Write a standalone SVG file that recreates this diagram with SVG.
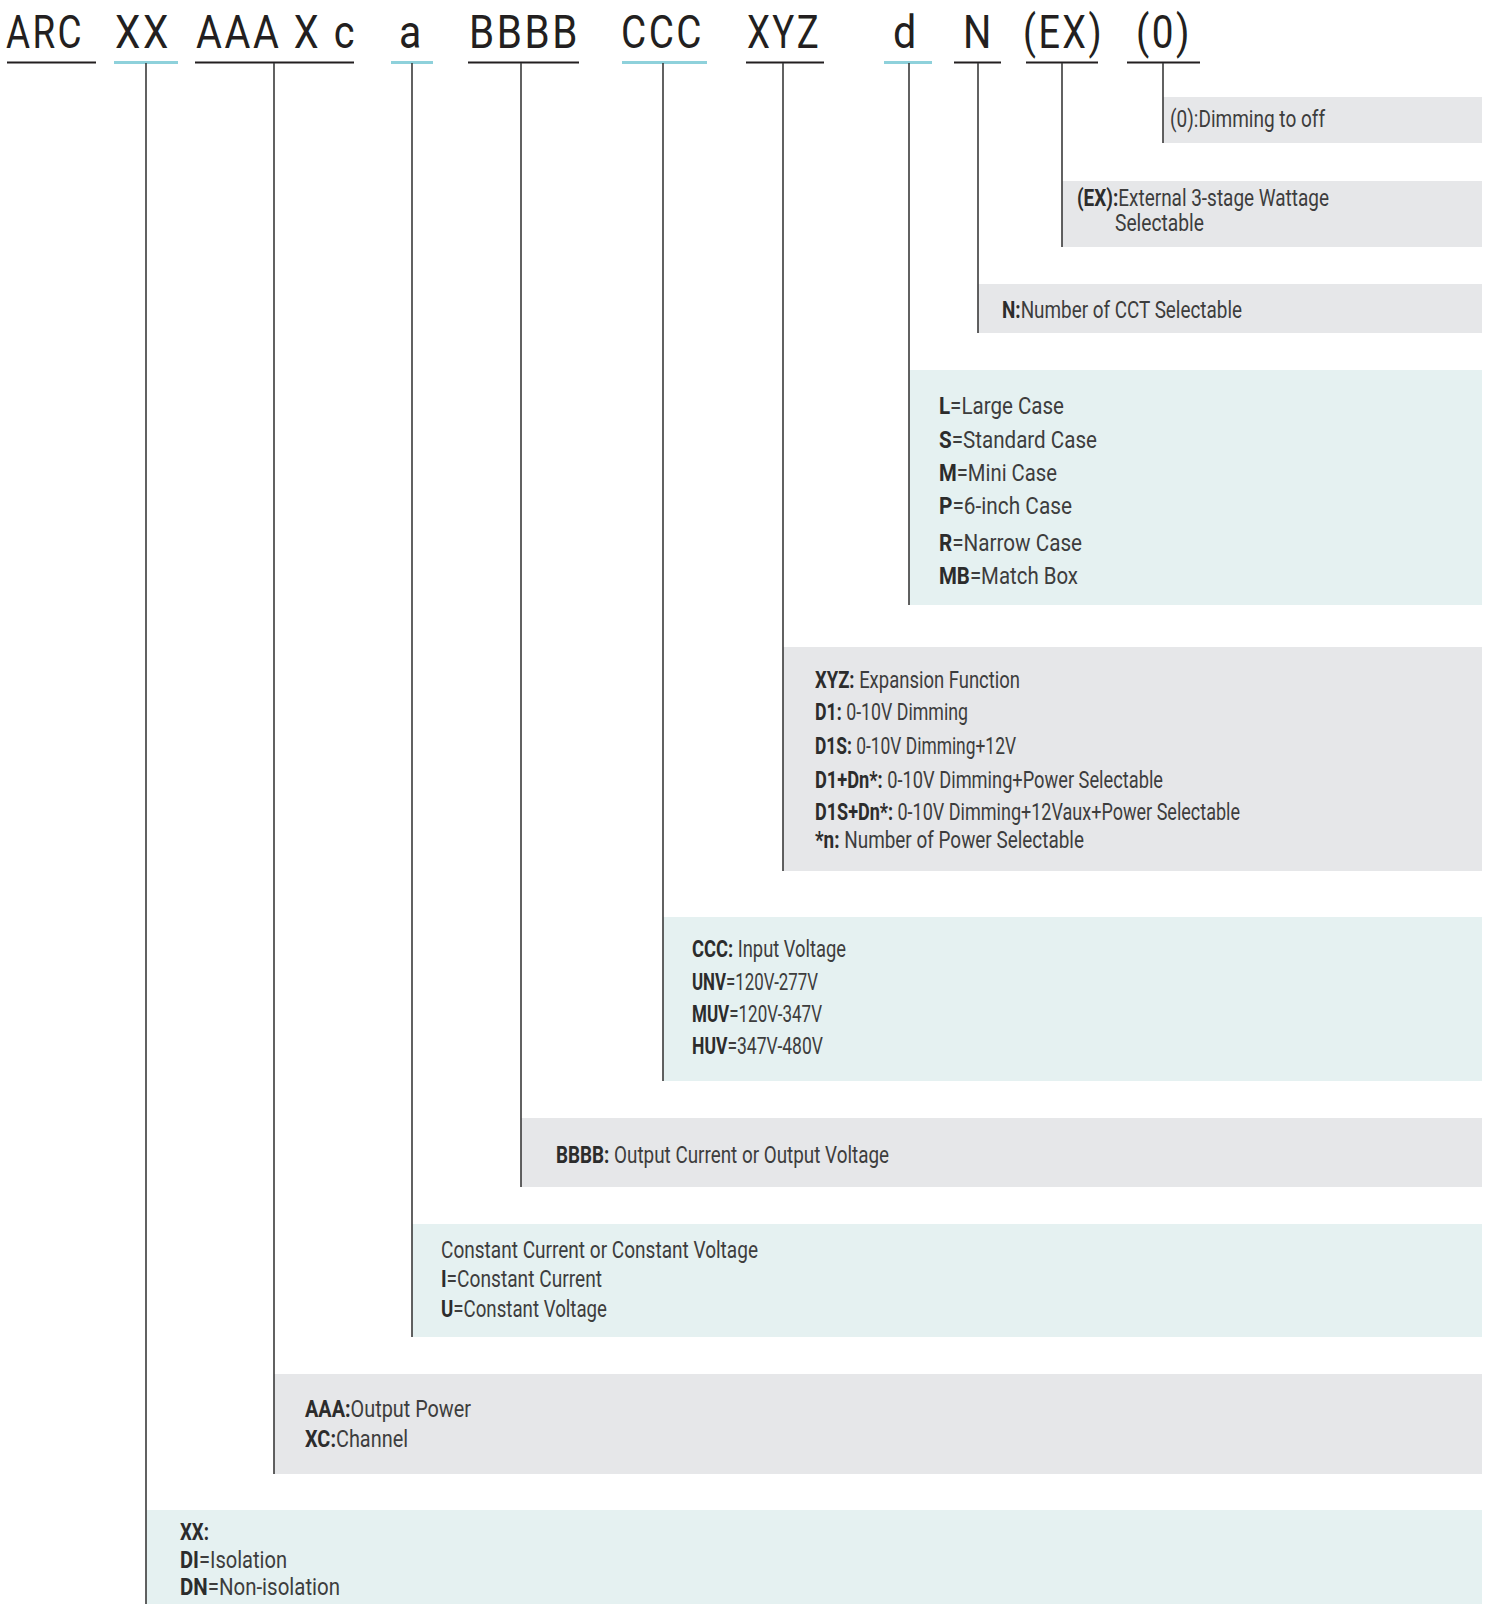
<svg xmlns="http://www.w3.org/2000/svg" width="1489" height="1604" viewBox="0 0 1489 1604">
<style>
.t{font-family:Roboto,"Liberation Sans",sans-serif;font-size:46px;letter-spacing:3px;fill:#231f20}
.d{font-family:Roboto,"Liberation Sans",sans-serif;font-size:23.5px;fill:#3d3d3d}
.b{font-weight:bold;fill:#2c2c2c}
.g{fill:#e6e7e9}
.c{fill:#e5f1f1}
.ul{stroke:#231f20;stroke-width:2}
.uc{stroke:#8ed1db;stroke-width:3}
.ln{stroke:#3a3a3a;stroke-width:1.6;fill:none}
</style>
<rect width="1489" height="1604" fill="#ffffff"/>

<g id="code">
  <g id="seg-ARC"><text class="t" x="6" y="48" textLength="78" lengthAdjust="spacingAndGlyphs">ARC</text><line class="ul" x1="7" y1="62.5" x2="96" y2="62.5"/></g>
  <g id="seg-XX"><text class="t" x="115" y="48" textLength="56" lengthAdjust="spacingAndGlyphs">XX</text><line class="uc" x1="114" y1="62.5" x2="178" y2="62.5"/></g>
  <g id="seg-AAAXc"><text class="t" x="196" y="48" textLength="161" lengthAdjust="spacingAndGlyphs">AAA X c</text><line class="ul" x1="195" y1="62.5" x2="354" y2="62.5"/></g>
  <g id="seg-a"><text class="t" x="399" y="48" textLength="25" lengthAdjust="spacingAndGlyphs">a</text><line class="uc" x1="391" y1="62.5" x2="433" y2="62.5"/></g>
  <g id="seg-BBBB"><text class="t" x="469" y="48" textLength="111" lengthAdjust="spacingAndGlyphs">BBBB</text><line class="ul" x1="468" y1="62.5" x2="579" y2="62.5"/></g>
  <g id="seg-CCC"><text class="t" x="621" y="48" textLength="83" lengthAdjust="spacingAndGlyphs">CCC</text><line class="uc" x1="622" y1="62.5" x2="707" y2="62.5"/></g>
  <g id="seg-XYZ"><text class="t" x="747" y="48" textLength="74" lengthAdjust="spacingAndGlyphs">XYZ</text><line class="ul" x1="746" y1="62.5" x2="824" y2="62.5"/></g>
  <g id="seg-d"><text class="t" x="893" y="48" textLength="26" lengthAdjust="spacingAndGlyphs">d</text><line class="uc" x1="884" y1="62.5" x2="932" y2="62.5"/></g>
  <g id="seg-N"><text class="t" x="963" y="48" textLength="31" lengthAdjust="spacingAndGlyphs">N</text><line class="ul" x1="954" y1="62.5" x2="1001" y2="62.5"/></g>
  <g id="seg-EX"><text class="t" x="1023" y="48" textLength="81" lengthAdjust="spacingAndGlyphs">(EX)</text><line class="ul" x1="1026" y1="62.5" x2="1098" y2="62.5"/></g>
  <g id="seg-0"><text class="t" x="1136" y="48" textLength="56" lengthAdjust="spacingAndGlyphs">(0)</text><line class="ul" x1="1127" y1="62.5" x2="1200" y2="62.5"/></g>
</g>

<g id="desc-0">
  <rect class="g" x="1163" y="97" width="319" height="46"/>
  <text class="d" x="1170" y="127" textLength="155" lengthAdjust="spacingAndGlyphs">(0):Dimming to off</text>
</g>
<g id="desc-EX">
  <rect class="g" x="1062" y="181" width="420" height="66"/>
  <text class="d" x="1077" y="206" textLength="252" lengthAdjust="spacingAndGlyphs"><tspan class="b">(EX):</tspan>External 3-stage Wattage</text>
  <text class="d" x="1115" y="231" textLength="89" lengthAdjust="spacingAndGlyphs">Selectable</text>
</g>
<g id="desc-N">
  <rect class="g" x="978" y="284" width="504" height="49"/>
  <text class="d" x="1002" y="318" textLength="240" lengthAdjust="spacingAndGlyphs"><tspan class="b">N:</tspan>Number of CCT Selectable</text>
</g>
<g id="desc-d">
  <rect class="c" x="909" y="370" width="573" height="235"/>
  <text class="d" x="939" y="414" textLength="125" lengthAdjust="spacingAndGlyphs"><tspan class="b">L</tspan>=Large Case</text>
  <text class="d" x="939" y="448" textLength="158" lengthAdjust="spacingAndGlyphs"><tspan class="b">S</tspan>=Standard Case</text>
  <text class="d" x="939" y="481" textLength="118" lengthAdjust="spacingAndGlyphs"><tspan class="b">M</tspan>=Mini Case</text>
  <text class="d" x="939" y="514" textLength="133" lengthAdjust="spacingAndGlyphs"><tspan class="b">P</tspan>=6-inch Case</text>
  <text class="d" x="939" y="551" textLength="143" lengthAdjust="spacingAndGlyphs"><tspan class="b">R</tspan>=Narrow Case</text>
  <text class="d" x="939" y="584" textLength="139" lengthAdjust="spacingAndGlyphs"><tspan class="b">MB</tspan>=Match Box</text>
</g>
<g id="desc-XYZ">
  <rect class="g" x="783" y="647" width="699" height="224"/>
  <text class="d" x="815" y="688" textLength="205" lengthAdjust="spacingAndGlyphs"><tspan class="b">XYZ:</tspan> Expansion Function</text>
  <text class="d" x="815" y="720" textLength="153" lengthAdjust="spacingAndGlyphs"><tspan class="b">D1:</tspan> 0-10V Dimming</text>
  <text class="d" x="815" y="754" textLength="201" lengthAdjust="spacingAndGlyphs"><tspan class="b">D1S:</tspan> 0-10V Dimming+12V</text>
  <text class="d" x="815" y="788" textLength="348" lengthAdjust="spacingAndGlyphs"><tspan class="b">D1+Dn*:</tspan> 0-10V Dimming+Power Selectable</text>
  <text class="d" x="815" y="820" textLength="425" lengthAdjust="spacingAndGlyphs"><tspan class="b">D1S+Dn*:</tspan> 0-10V Dimming+12Vaux+Power Selectable</text>
  <text class="d" x="815" y="848" textLength="269" lengthAdjust="spacingAndGlyphs"><tspan class="b">*n:</tspan> Number of Power Selectable</text>
</g>
<g id="desc-CCC">
  <rect class="c" x="663" y="917" width="819" height="164"/>
  <text class="d" x="692" y="957" textLength="154" lengthAdjust="spacingAndGlyphs"><tspan class="b">CCC:</tspan> Input Voltage</text>
  <text class="d" x="692" y="990" textLength="126" lengthAdjust="spacingAndGlyphs"><tspan class="b">UNV</tspan>=120V-277V</text>
  <text class="d" x="692" y="1022" textLength="130" lengthAdjust="spacingAndGlyphs"><tspan class="b">MUV</tspan>=120V-347V</text>
  <text class="d" x="692" y="1054" textLength="131" lengthAdjust="spacingAndGlyphs"><tspan class="b">HUV</tspan>=347V-480V</text>
</g>
<g id="desc-BBBB">
  <rect class="g" x="521" y="1118" width="961" height="69"/>
  <text class="d" x="556" y="1163" textLength="333" lengthAdjust="spacingAndGlyphs"><tspan class="b">BBBB:</tspan> Output Current or Output Voltage</text>
</g>
<g id="desc-a">
  <rect class="c" x="412" y="1224" width="1070" height="113"/>
  <text class="d" x="441" y="1258" textLength="317" lengthAdjust="spacingAndGlyphs">Constant Current or Constant Voltage</text>
  <text class="d" x="441" y="1287" textLength="161" lengthAdjust="spacingAndGlyphs"><tspan class="b">I</tspan>=Constant Current</text>
  <text class="d" x="441" y="1317" textLength="166" lengthAdjust="spacingAndGlyphs"><tspan class="b">U</tspan>=Constant Voltage</text>
</g>
<g id="desc-AAA">
  <rect class="g" x="274" y="1374" width="1208" height="100"/>
  <text class="d" x="305" y="1417" textLength="166" lengthAdjust="spacingAndGlyphs"><tspan class="b">AAA:</tspan>Output Power</text>
  <text class="d" x="305" y="1447" textLength="103" lengthAdjust="spacingAndGlyphs"><tspan class="b">XC:</tspan>Channel</text>
</g>
<g id="desc-XX">
  <rect class="c" x="146" y="1510" width="1336" height="94"/>
  <text class="d" x="180" y="1540" textLength="29" lengthAdjust="spacingAndGlyphs"><tspan class="b">XX:</tspan></text>
  <text class="d" x="180" y="1568" textLength="107" lengthAdjust="spacingAndGlyphs"><tspan class="b">DI</tspan>=Isolation</text>
  <text class="d" x="180" y="1595" textLength="160" lengthAdjust="spacingAndGlyphs"><tspan class="b">DN</tspan>=Non-isolation</text>
</g>

<g id="connectors">
  <line class="ln" x1="146" y1="63" x2="146" y2="1604"/>
  <line class="ln" x1="274" y1="63" x2="274" y2="1474"/>
  <line class="ln" x1="412" y1="63" x2="412" y2="1337"/>
  <line class="ln" x1="521" y1="63" x2="521" y2="1187"/>
  <line class="ln" x1="663" y1="63" x2="663" y2="1081"/>
  <line class="ln" x1="783" y1="63" x2="783" y2="871"/>
  <line class="ln" x1="909" y1="63" x2="909" y2="605"/>
  <line class="ln" x1="978" y1="63" x2="978" y2="333"/>
  <line class="ln" x1="1062" y1="63" x2="1062" y2="247"/>
  <line class="ln" x1="1163" y1="63" x2="1163" y2="143"/>
</g>
</svg>
